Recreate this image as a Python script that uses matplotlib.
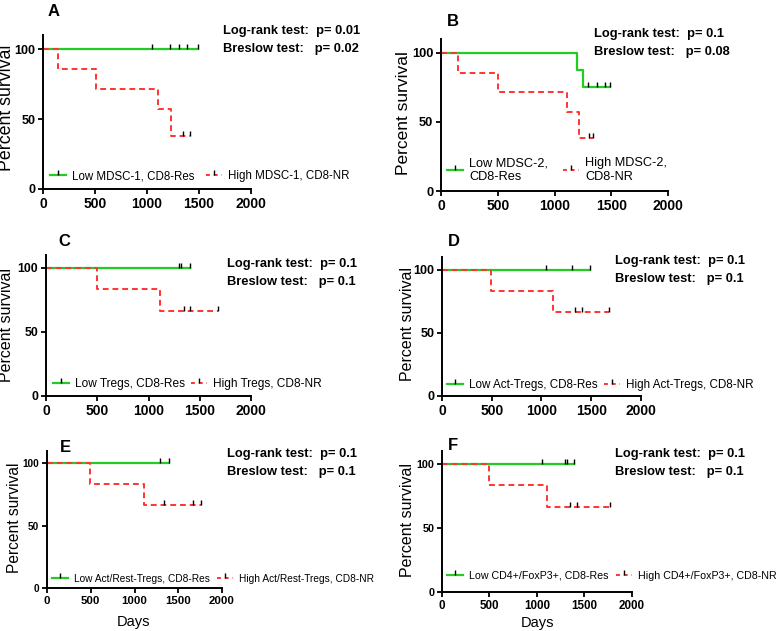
import matplotlib
matplotlib.use("Agg")
import matplotlib.pyplot as plt
from matplotlib.lines import Line2D

plt.rcParams['font.family'] = ['Liberation Sans', 'DejaVu Sans']

W, H = 778, 631

GREEN = '#22cc22'
RED = '#ff3333'

panel_letters = ['A', 'B', 'C', 'D', 'E', 'F']

# step curves: event times (days) and survival (%) after each time
low_times = [
    [0, 1495],
    [0, 1200, 1247, 1487],
    [0, 1402],
    [0, 1484],
    [0, 1398],
    [0, 1388],
]
low_surv = [
    [100, 100],
    [100, 87.5, 75, 75],
    [100, 100],
    [100, 100],
    [100, 100],
    [100, 100],
]
high_times = [
    [0, 145, 505, 1109, 1228, 1415],
    [0, 146, 501, 1107, 1218, 1341],
    [0, 498, 1115, 1675],
    [0, 496, 1112, 1675],
    [0, 495, 1105, 1764],
    [0, 497, 1108, 1773],
]
high_surv = [
    [100, 85.7, 71.4, 57.1, 38.1, 38.1],
    [100, 85.7, 71.4, 57.1, 38.1, 38.1],
    [100, 83.3, 66.7, 66.7],
    [100, 83.3, 66.7, 66.7],
    [100, 83.3, 66.7, 66.7],
    [100, 83.3, 66.7, 66.7],
]

# censored observations
low_censor_t = [
    [1051, 1222, 1309, 1389, 1495],
    [1297, 1376, 1443, 1487],
    [1300, 1320, 1402],
    [1049, 1307, 1484],
    [1295, 1398],
    [1049, 1300, 1320, 1388],
]
low_censor_s = [
    [100] * 5,
    [75] * 4,
    [100] * 3,
    [100] * 3,
    [100] * 2,
    [100] * 4,
]
high_censor_t = [
    [1344, 1415],
    [1306, 1341],
    [1343, 1408, 1675],
    [1340, 1407, 1675],
    [1333, 1665, 1764],
    [1346, 1416, 1773],
]
high_censor_s = [
    [38.1, 38.1],
    [38.1, 38.1],
    [66.7] * 3,
    [66.7] * 3,
    [66.7] * 3,
    [66.7] * 3,
]

low_labels = ['Low MDSC-1, CD8-Res', 'Low MDSC-2,\nCD8-Res', 'Low Tregs, CD8-Res',
              'Low Act-Tregs, CD8-Res', 'Low Act/Rest-Tregs, CD8-Res',
              'Low CD4+/FoxP3+, CD8-Res']
high_labels = ['High MDSC-1, CD8-NR', 'High MDSC-2,\nCD8-NR', 'High Tregs, CD8-NR',
               'High Act-Tregs, CD8-NR', 'High Act/Rest-Tregs, CD8-NR',
               'High CD4+/FoxP3+, CD8-NR']
logrank_p = ['0.01', '0.1', '0.1', '0.1', '0.1', '0.1']
breslow_p = ['0.02', '0.08', '0.1', '0.1', '0.1', '0.1']

# layout in pixels: axes (left, right, top, bottom)
axes_px = [
    (43, 251, 35, 189),
    (441, 668, 39, 191),
    (46, 251, 255, 396),
    (442, 641, 257, 396),
    (47, 222, 451, 588),
    (442, 632, 451, 592),
]
letter_px = [(48, 12), (447, 22), (58, 242), (448, 242), (60, 447), (448, 445)]
stats_px = [(223, 31), (594, 34), (227, 264), (615, 261), (227, 454), (615, 454)]
legend_px = [(50, 176), (447, 170), (53, 384), (447, 385), (52, 579), (447, 576)]
legend_size = [8.3, 9.2, 8.6, 8.4, 7.3, 7.7]
legend_colgap_px = [12, 15, 6, 6, 7, 7]
ylabel_px = [(7, 108), (404, 113), (7, 325), (407, 324), (15, 518), (407, 520)]
ylabel_size = [12.8, 12.5, 11.5, 11.5, 11.2, 11.5]
xtick_size = [10, 10, 10, 10, 8.2, 8.4]
ytick_size = [9, 9.3, 8.8, 9, 7.2, 7.8]
days_px = [None, None, None, None, (134, 622), (537, 623)]


def fx(x):
    return x / W


def fy(y):
    return 1 - y / H


fig = plt.figure(figsize=(W / 100, H / 100), dpi=100)

for i in range(6):
    l, r, t, b = axes_px[i]
    ax = fig.add_axes([fx(l), fy(b), (r - l) / W, (b - t) / H])

    ax.step(low_times[i], low_surv[i], where='post', color=GREEN, lw=1.6)
    ax.step(high_times[i], high_surv[i], where='post', color=RED, lw=1.4,
            linestyle=(0, (3, 2)))
    ax.plot(low_censor_t[i], low_censor_s[i], linestyle='none', marker=2,
            color='k', ms=3.5, mew=1)
    ax.plot(high_censor_t[i], high_censor_s[i], linestyle='none', marker=2,
            color='k', ms=3.5, mew=1)

    ax.set_xlim(0, 2000)
    ax.set_ylim(0, 110)
    ax.set_xticks([0, 500, 1000, 1500, 2000])
    ax.set_yticks([0, 50, 100])
    ax.spines['top'].set_visible(False)
    ax.spines['right'].set_visible(False)
    ax.spines['left'].set_linewidth(1.4)
    ax.spines['bottom'].set_linewidth(1.4)
    ax.tick_params(direction='out', length=3.5, width=1.3, pad=2)
    for lab in ax.get_xticklabels():
        lab.set_fontweight('bold')
        lab.set_fontsize(xtick_size[i])
    for lab in ax.get_yticklabels():
        lab.set_fontweight('bold')
        lab.set_fontsize(ytick_size[i])

    yx, yy = ylabel_px[i]
    fig.text(fx(yx), fy(yy), 'Percent survival', rotation=90,
             fontsize=ylabel_size[i], ha='center', va='center')

    handles = [
        Line2D([], [], color=GREEN, lw=1.6, marker=2, mec='k', ms=3.5),
        Line2D([], [], color=RED, lw=1.4, linestyle=(0, (2, 2)), marker=2,
               mec='k', ms=3.5),
    ]
    em = legend_size[i] * 100 / 72
    lx, ly = legend_px[i]
    fig.legend(handles, [low_labels[i], high_labels[i]], loc='center left',
               bbox_to_anchor=(fx(lx), fy(ly)), ncol=2, frameon=False,
               fontsize=legend_size[i], handlelength=16 / em,
               handletextpad=6 / em, columnspacing=legend_colgap_px[i] / em,
               borderpad=0, borderaxespad=0, numpoints=1)

    px, py = letter_px[i]
    fig.text(fx(px), fy(py), panel_letters[i], fontsize=12, fontweight='bold',
             ha='left', va='center')
    sx, sy = stats_px[i]
    fig.text(fx(sx), fy(sy), 'Log-rank test:  p= ' + logrank_p[i],
             fontsize=9.3, fontweight='bold', ha='left', va='center')
    fig.text(fx(sx), fy(sy + 18), 'Breslow test:   p= ' + breslow_p[i],
             fontsize=9.3, fontweight='bold', ha='left', va='center')

    if days_px[i] is not None:
        dx, dy = days_px[i]
        fig.text(fx(dx), fy(dy), 'Days', fontsize=10.5, ha='center', va='center')

fig.savefig('out.png', dpi=100)
